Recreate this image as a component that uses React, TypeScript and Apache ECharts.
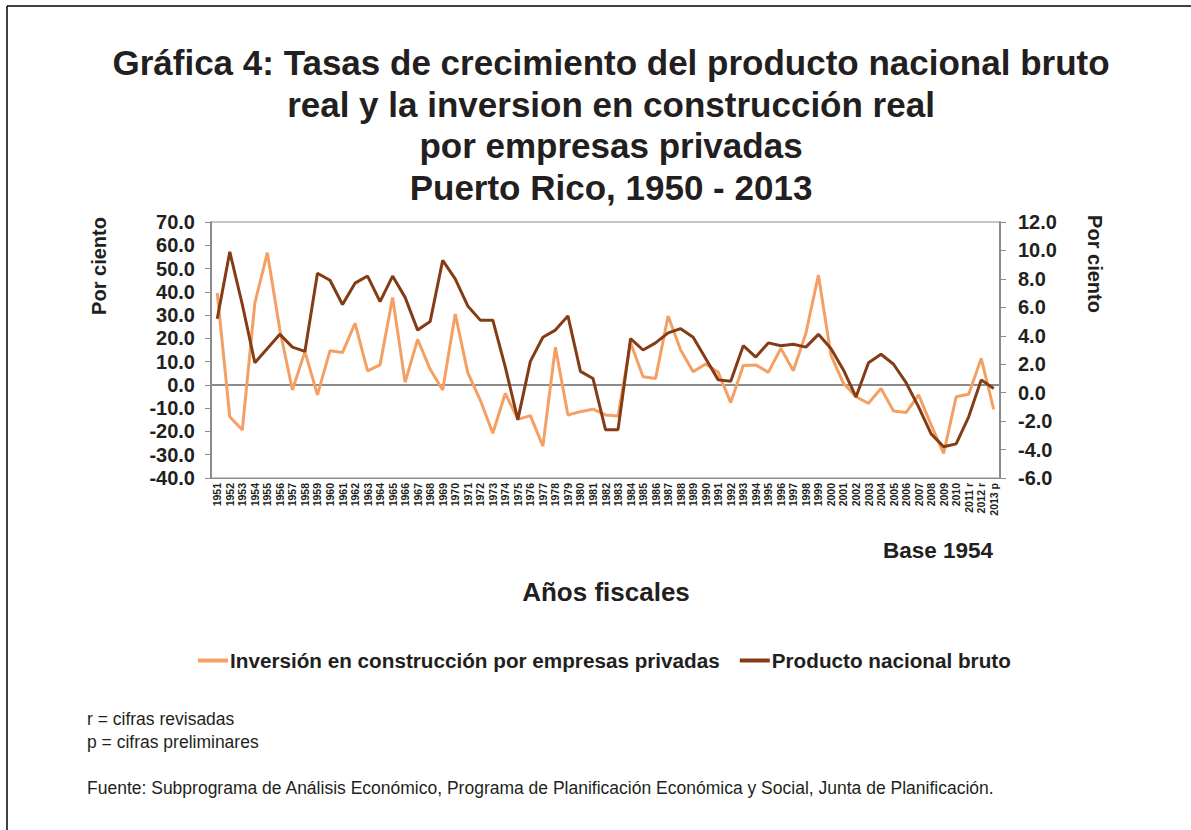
import React, { useEffect, useRef } from "react";
import * as echarts from "echarts";

const years = [
  "1951", "1952", "1953", "1954", "1955", "1956", "1957", "1958", "1959", "1960",
  "1961", "1962", "1963", "1964", "1965", "1966", "1967", "1968", "1969", "1970",
  "1971", "1972", "1973", "1974", "1975", "1976", "1977", "1978", "1979", "1980",
  "1981", "1982", "1983", "1984", "1985", "1986", "1987", "1988", "1989", "1990",
  "1991", "1992", "1993", "1994", "1995", "1996", "1997", "1998", "1999", "2000",
  "2001", "2002", "2003", "2004", "2005", "2006", "2007", "2008", "2009", "2010",
  "2011 r", "2012 r", "2013 p",
];

const inversion = [
  39.5, -13.7, -19.4, 35.1, 56.8, 23.6, -2.2, 14.3, -4.3, 14.7,
  13.9, 26.5, 6.0, 8.6, 37.6, 1.1, 19.6, 6.7, -2.2, 30.5,
  5.3, -6.5, -20.8, -3.6, -14.8, -13.2, -26.3, 16.2, -12.9, -11.5,
  -10.4, -12.9, -13.4, 18.1, 3.5, 2.8, 29.6, 15.0, 5.7, 9.0,
  5.4, -7.6, 8.3, 8.6, 5.4, 15.7, 6.1, 22.2, 47.2, 12.8,
  0.7, -5.1, -7.9, -1.5, -11.2, -11.9, -4.3, -17.2, -29.4, -5.1,
  -4.0, 11.4, -10.5,
];

const pnb = [
  5.2, 9.9, 6.2, 2.1, 3.1, 4.1, 3.2, 2.9, 8.4, 7.9,
  6.2, 7.7, 8.2, 6.4, 8.2, 6.7, 4.4, 5.0, 9.3, 8.0,
  6.1, 5.1, 5.1, 1.8, -1.9, 2.2, 3.9, 4.4, 5.4, 1.5,
  1.0, -2.6, -2.6, 3.8, 3.0, 3.5, 4.2, 4.5, 3.9, 2.4,
  0.9, 0.8, 3.3, 2.5, 3.5, 3.3, 3.4, 3.2, 4.1, 3.1,
  1.6, -0.3, 2.1, 2.7, 2.0, 0.7, -1.0, -2.9, -3.8, -3.6,
  -1.7, 0.9, 0.3,
];

const titleLines = [
  "Gráfica 4: Tasas de crecimiento del producto nacional bruto",
  "real y la inversion en construcción real",
  "por empresas privadas",
  "Puerto Rico, 1950 - 2013",
];

const seriesNames = [
  "Inversión en construcción por empresas privadas",
  "Producto nacional bruto",
];

const FONT = "'Liberation Sans', Arial, Helvetica, sans-serif";
const TXT = "#231f20";
const LIGHT = "#f4a064";
const DARK = "#843c15";
const AXIS = "#8c8c8c";

export default function App() {
  const ref = useRef<HTMLDivElement>(null);

  useEffect(() => {
    document.body.style.margin = "0";
    if (!ref.current) return;
    const chart = echarts.init(ref.current, null, { renderer: "svg" });
    chart.setOption({
      animation: false,
      backgroundColor: "#ffffff",
      textStyle: { fontFamily: FONT },
      title: {
        text: titleLines.join("\n"),
        left: 606,
        top: 37,
        textAlign: "center",
        textStyle: {
          fontFamily: FONT,
          fontSize: 35,
          fontWeight: "bold",
          color: TXT,
          lineHeight: 41.5,
        },
      },
      legend: {
        left: 198,
        top: 650,
        padding: 0,
        itemWidth: 30,
        itemHeight: 4,
        itemGap: 20,
        icon: "rect",
        data: seriesNames,
        textStyle: {
          fontFamily: FONT,
          fontSize: 20.7,
          fontWeight: "bold",
          color: TXT,
          padding: [0, 0, 0, -3],
        },
      },
      grid: {
        left: 211,
        right: 191,
        top: 222,
        height: 256,
        show: true,
        borderColor: AXIS,
        borderWidth: 1,
        backgroundColor: "transparent",
      },
      xAxis: {
        type: "category",
        data: years,
        boundaryGap: true,
        axisLine: { onZero: false, lineStyle: { color: AXIS, width: 1 } },
        axisTick: { show: false },
        axisLabel: {
          rotate: 90,
          interval: 0,
          margin: 5,
          fontFamily: FONT,
          fontSize: 10.5,
          fontWeight: "bold",
          color: TXT,
        },
        splitLine: { show: false },
      },
      yAxis: [
        {
          type: "value",
          min: -40,
          max: 70,
          interval: 10,
          position: "left",
          axisLine: { show: true, lineStyle: { color: AXIS, width: 2 } },
          axisTick: { show: true, length: 6, lineStyle: { color: AXIS, width: 1 } },
          axisLabel: {
            margin: 16,
            formatter: (v: number) => v.toFixed(1),
            fontFamily: FONT,
            fontSize: 20,
            fontWeight: "bold",
            color: TXT,
          },
          splitLine: { show: false },
        },
        {
          type: "value",
          min: -6,
          max: 12,
          interval: 2,
          position: "right",
          axisLine: { show: true, lineStyle: { color: AXIS, width: 2 } },
          axisTick: { show: true, length: 6, lineStyle: { color: AXIS, width: 1 } },
          axisLabel: {
            margin: 18,
            formatter: (v: number) => v.toFixed(1),
            fontFamily: FONT,
            fontSize: 20,
            fontWeight: "bold",
            color: TXT,
          },
          splitLine: { show: false },
        },
      ],
      series: [
        {
          name: seriesNames[0],
          type: "line",
          yAxisIndex: 0,
          data: inversion,
          symbol: "none",
          showSymbol: false,
          lineStyle: { color: LIGHT, width: 3 },
          itemStyle: { color: LIGHT },
          z: 2,
          markLine: {
            silent: true,
            symbol: ["none", "none"],
            label: { show: false },
            lineStyle: { color: AXIS, width: 2, type: "solid" },
            data: [{ yAxis: 0 }],
            z: 1,
          },
        },
        {
          name: seriesNames[1],
          type: "line",
          yAxisIndex: 1,
          data: pnb,
          symbol: "none",
          showSymbol: false,
          lineStyle: { color: DARK, width: 3 },
          itemStyle: { color: DARK },
          z: 3,
        },
      ],
      graphic: [
        {
          type: "line",
          shape: { x1: 7, y1: 6, x2: 1191, y2: 6 },
          style: { stroke: "#000", lineWidth: 1.5 },
        },
        {
          type: "line",
          shape: { x1: 7, y1: 6, x2: 7, y2: 830 },
          style: { stroke: "#000", lineWidth: 1.5 },
        },
        {
          type: "text",
          x: 99,
          y: 266,
          rotation: Math.PI / 2,
          style: {
            text: "Por ciento",
            fontFamily: FONT,
            fontSize: 20,
            fontWeight: "bold",
            fill: TXT,
            align: "center",
            verticalAlign: "middle",
          },
        },
        {
          type: "text",
          x: 1095,
          y: 264,
          rotation: -Math.PI / 2,
          style: {
            text: "Por ciento",
            fontFamily: FONT,
            fontSize: 20,
            fontWeight: "bold",
            fill: TXT,
            align: "center",
            verticalAlign: "middle",
          },
        },
        {
          type: "text",
          x: 993,
          y: 550,
          style: {
            text: "Base 1954",
            fontFamily: FONT,
            fontSize: 22.5,
            fontWeight: "bold",
            fill: TXT,
            align: "right",
            verticalAlign: "middle",
          },
        },
        {
          type: "text",
          x: 606,
          y: 592,
          style: {
            text: "Años fiscales",
            fontFamily: FONT,
            fontSize: 26,
            fontWeight: "bold",
            fill: TXT,
            align: "center",
            verticalAlign: "middle",
          },
        },
        {
          type: "text",
          x: 87,
          y: 719,
          style: {
            text: "r = cifras revisadas",
            fontFamily: FONT,
            fontSize: 17.5,
            fill: TXT,
            align: "left",
            verticalAlign: "middle",
          },
        },
        {
          type: "text",
          x: 87,
          y: 742,
          style: {
            text: "p = cifras preliminares",
            fontFamily: FONT,
            fontSize: 17.5,
            fill: TXT,
            align: "left",
            verticalAlign: "middle",
          },
        },
        {
          type: "text",
          x: 87,
          y: 788,
          style: {
            text: "Fuente: Subprograma de Análisis Económico, Programa de Planificación Económica y Social, Junta de Planificación.",
            fontFamily: FONT,
            fontSize: 17.5,
            fill: TXT,
            align: "left",
            verticalAlign: "middle",
          },
        },
      ],
    });
    return () => chart.dispose();
  }, []);

  return <div ref={ref} style={{ width: 1191, height: 830 }} />;
}
